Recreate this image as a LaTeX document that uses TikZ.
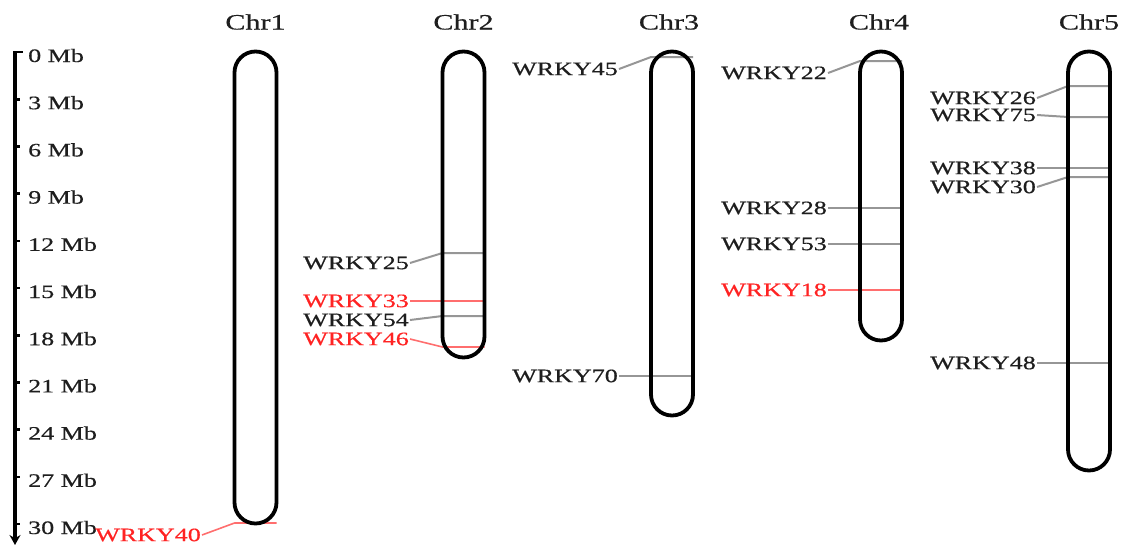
\documentclass[tikz,border=0pt]{standalone}
\usepackage{fontspec}
\setmainfont{Liberation Serif}
\newfontfamily\heavyserif[FakeBold=0.45]{Liberation Serif}
\usetikzlibrary{arrows.meta,backgrounds}
\definecolor{txt}{RGB}{30,30,30}
\definecolor{redt}{RGB}{255,35,35}
\definecolor{glc}{RGB}{150,150,150}
\definecolor{rlc}{RGB}{255,110,110}
\newcommand\wx[1]{\scalebox{1.37}[1]{#1}}
\newcommand\lblfont{\heavyserif\fontsize{19}{21}\selectfont}
\newcommand\chrfont{\heavyserif\fontsize{22}{24}\selectfont}
\tikzset{
  chrom/.style={draw=black, line width=3.8pt, rounded corners=21pt, minimum width=42pt, inner sep=0pt, outer sep=0pt},
  lab/.style={font=\lblfont, text=txt, inner sep=1pt, anchor=east},
  rlab/.style={lab, text=redt},
  axlab/.style={font=\lblfont, text=txt, inner sep=0pt, anchor=west},
  chrlab/.style={font=\chrfont, text=txt, inner sep=0pt},
  gl/.style={draw=glc, line width=2pt},
  rl/.style={draw=rlc, line width=1.6pt},
  axisline/.style={line width=3.2pt, -{Stealth[length=10pt,width=11pt]}},
  tickline/.style={line width=2.6pt},
}
\begin{document}
\begin{tikzpicture}[x=1pt,y=-1pt]
\useasboundingbox (0,0) rectangle (1124,547);
% axis
\coordinate (atop) at (15,52);
\coordinate (abot) at (15,545);
\draw[axisline] (atop) -- (abot);
\draw[tickline] ([xshift=-1.6pt]atop) -- ++(10,0);
\foreach \k in {1,...,10}{
  \draw[tickline] (15,{52+47.2*\k}) -- ++(5,0);
}
\foreach \k in {0,...,10}{
  \pgfmathtruncatemacro\mb{3*\k}
  \node[axlab] (ax\k) at (28,{55.5+47.2*\k}) {\wx{\mb{} Mb}};
}
% chromosomes
\node[chrom, minimum height=472pt] (c1) at (255.5,287.5) {};
\node[chrom, minimum height=306pt] (c2) at (463.5,204.5) {};
\node[chrom, minimum height=364pt] (c3) at (672,233.5) {};
\node[chrom, minimum height=289pt] (c4) at (881,196) {};
\node[chrom, minimum height=419pt] (c5) at (1089,261) {};
% chromosome titles
\node[chrlab] (t1) at (255.5,22) {\wx{Chr1}};
\node[chrlab] (t2) at (463.5,22) {\wx{Chr2}};
\node[chrlab] (t3) at (669,22) {\wx{Chr3}};
\node[chrlab] (t4) at (879,22) {\wx{Chr4}};
\node[chrlab] (t5) at (1089,22) {\wx{Chr5}};
% gene labels
\node[rlab] (l40) at (202,535) {\wx{WRKY40}};
\node[lab]  (l25) at (410,263) {\wx{WRKY25}};
\node[rlab] (l33) at (410,301) {\wx{WRKY33}};
\node[lab]  (l54) at (410,320) {\wx{WRKY54}};
\node[rlab] (l46) at (410,339) {\wx{WRKY46}};
\node[lab]  (l45) at (619,69) {\wx{WRKY45}};
\node[lab]  (l70) at (619,376) {\wx{WRKY70}};
\node[lab]  (l22) at (828,73) {\wx{WRKY22}};
\node[lab]  (l28) at (828,208) {\wx{WRKY28}};
\node[lab]  (l53) at (828,244) {\wx{WRKY53}};
\node[rlab] (l18) at (828,290) {\wx{WRKY18}};
\node[lab]  (l26) at (1037,98) {\wx{WRKY26}};
\node[lab]  (l75) at (1037,115) {\wx{WRKY75}};
\node[lab]  (l38) at (1037,168) {\wx{WRKY38}};
\node[lab]  (l30) at (1037,187) {\wx{WRKY30}};
\node[lab]  (l48) at (1037,363) {\wx{WRKY48}};
% gene connectors
\begin{pgfonlayer}{background}
\draw[rl] (l40.east) -- (c1.west |- 0,523) -- (c1.east |- 0,523);
\draw[gl] (l25.east) -- (c2.west |- 0,253) -- (c2.east |- 0,253);
\draw[rl] (l33.east) -- (c2.west |- 0,301) -- (c2.east |- 0,301);
\draw[gl] (l54.east) -- (c2.west |- 0,316) -- (c2.east |- 0,316);
\draw[rl] (l46.east) -- (c2.west |- 0,347) -- (c2.east |- 0,347);
\draw[gl] (l45.east) -- (c3.west |- 0,57) -- (c3.east |- 0,57);
\draw[gl] (l70.east) -- (c3.west |- 0,376) -- (c3.east |- 0,376);
\draw[gl] (l22.east) -- (c4.west |- 0,61) -- (c4.east |- 0,61);
\draw[gl] (l28.east) -- (c4.west |- 0,208) -- (c4.east |- 0,208);
\draw[gl] (l53.east) -- (c4.west |- 0,244) -- (c4.east |- 0,244);
\draw[rl] (l18.east) -- (c4.west |- 0,290) -- (c4.east |- 0,290);
\draw[gl] (l26.east) -- (c5.west |- 0,86) -- (c5.east |- 0,86);
\draw[gl] (l75.east) -- (c5.west |- 0,117) -- (c5.east |- 0,117);
\draw[gl] (l38.east) -- (c5.west |- 0,168) -- (c5.east |- 0,168);
\draw[gl] (l30.east) -- (c5.west |- 0,177) -- (c5.east |- 0,177);
\draw[gl] (l48.east) -- (c5.west |- 0,363) -- (c5.east |- 0,363);
\end{pgfonlayer}
\end{tikzpicture}
\end{document}
